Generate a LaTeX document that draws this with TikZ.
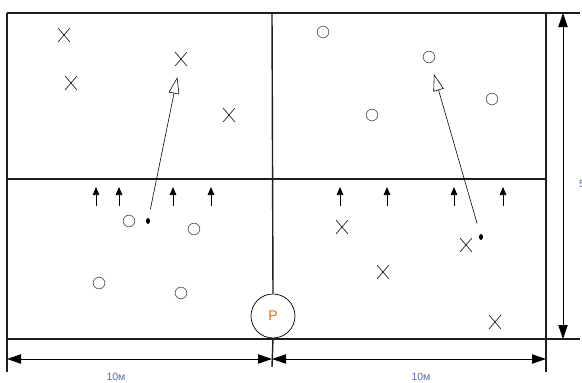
\documentclass[tikz,border=0pt]{standalone}
\usepackage{fontspec}
\setmainfont{Liberation Sans}
\usepackage{tikz}
\usetikzlibrary{shapes.geometric, shapes.misc, arrows.meta, positioning, calc}
\definecolor{myframe}{RGB}{30,30,30}
\definecolor{mycirc}{RGB}{90,90,90}
\definecolor{myorange}{RGB}{215,115,30}
\definecolor{mylabel}{RGB}{95,105,165}
\tikzset{
  frame/.style={line width=1.2pt, color=myframe},
  crossmark/.style={cross out, draw=black, line width=0.5pt,
    minimum width=3.4mm, minimum height=4.0mm, inner sep=0pt},
  opencirc/.style={circle, draw=mycirc, line width=0.6pt,
    minimum size=3.5mm, inner sep=0pt},
  ball/.style={ellipse, fill=black, minimum width=1.2mm,
    minimum height=1.8mm, inner sep=0pt},
  runarrow/.style={-{Triangle[length=2.4mm, width=2mm]}, line width=0.6pt},
  passarrow/.style={-{Triangle[open, length=5mm, width=3.2mm]}, line width=0.5pt},
  dimarrow/.style={{Triangle[length=4.2mm, width=2.8mm]}-{Triangle[length=4.2mm, width=2.8mm]}, line width=0.8pt},
  dimlabel/.style={font=\fontsize{9}{10}\selectfont, text=mylabel, inner sep=0pt}
}
\begin{document}
\begin{tikzpicture}[x=0.3mm, y=-0.3mm]
  \useasboundingbox (0,0) rectangle (582,383);

  % field
  \draw[frame] (7,13) -- (580,13);
  \draw[frame] (7,339) -- (580,339);
  \draw[frame] (7,179) -- (546,179);
  \draw[frame] (7,13) -- (7,372);
  \draw[frame] (546,13) -- (546,372);

  % player P on the middle line
  \node[circle, draw=black, line width=0.6pt, minimum size=13.2mm, inner sep=0pt,
    text=myorange, font=\fontsize{12}{12}\selectfont] (P) at (273,316) {P};
  \draw[frame] (272,13) -- (P.north);
  \draw[frame] (P.south) -- (272,367);

  % crosses
  \node[crossmark] (x1) at (64,35) {};
  \node[crossmark] (x2) at (71,83) {};
  \node[crossmark] (x3) at (181,59) {};
  \node[crossmark] (x4) at (229,115) {};
  \node[crossmark] (x5) at (342,227) {};
  \node[crossmark] (x6) at (383,272) {};
  \node[crossmark] (x7) at (466,245) {};
  \node[crossmark] (x8) at (495,322) {};

  % circles
  \node[opencirc] (o1) at (129,221) {};
  \node[opencirc] (o2) at (194,229) {};
  \node[opencirc] (o3) at (99,283) {};
  \node[opencirc] (o4) at (181,293) {};
  \node[opencirc] (o5) at (323,32) {};
  \node[opencirc] (o6) at (429,57) {};
  \node[opencirc] (o7) at (372,115) {};
  \node[opencirc] (o8) at (492,99) {};

  % balls and passes
  \node[ball] (b1) at (148,221) {};
  \node[ball] (b2) at (481,237) {};
  \draw[passarrow, shorten <=2.6mm, shorten >=3.4mm] (b1) -- (x3);
  \draw[passarrow, shorten <=3.3mm, shorten >=3.5mm] (b2) -- (o6);

  % running direction
  \foreach \i/\x in {1/96, 2/119, 3/173, 4/211, 5/340, 6/387, 7/454, 8/503} {
    \coordinate (r\i a) at (\x,206);
    \coordinate (r\i b) at (\x,187);
    \draw[runarrow] (r\i a) -- (r\i b);
  }

  % dimensions
  \coordinate (dl) at (7,359);
  \coordinate (dm) at (272,359);
  \coordinate (dr) at (546,359);
  \coordinate (dt) at (563,13);
  \coordinate (db) at (563,339);
  \draw[dimarrow] (dl) -- (dm);
  \draw[dimarrow] (dm) -- (dr);
  \draw[dimarrow] (dt) -- (db);
  \node[dimlabel] (l1) at (116,377) {10м};
  \node[dimlabel] (l2) at (421,377) {10м};
  \node[dimlabel, anchor=west] (l3) at (579,184) {5м};
\end{tikzpicture}
\end{document}
